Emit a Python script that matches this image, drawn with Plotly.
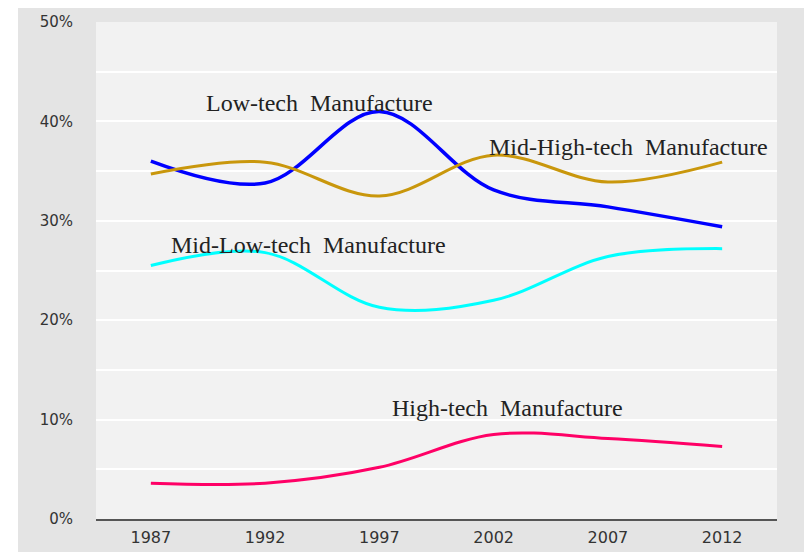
import plotly.graph_objects as go

years = [1987, 1992, 1997, 2002, 2007, 2012]
low_tech = [36.0, 33.8, 41.0, 33.1, 31.4, 29.4]
mid_high_tech = [34.7, 35.9, 32.5, 36.6, 33.9, 35.9]
mid_low_tech = [25.5, 26.8, 21.3, 22.0, 26.4, 27.2]
high_tech = [3.6, 3.6, 5.2, 8.5, 8.1, 7.3]

series = [
    ("Low-tech Manufacture", low_tech, "#0000ff", 3.5),
    ("Mid-High-tech Manufacture", mid_high_tech, "#c9970c", 3),
    ("Mid-Low-tech Manufacture", mid_low_tech, "#00ffff", 3),
    ("High-tech Manufacture", high_tech, "#ff0066", 3),
]

# label positions (x year, y %)
label_pos = {
    "Low-tech Manufacture": (1994.4, 41.9),
    "Mid-High-tech Manufacture": (2007.9, 37.4),
    "Mid-Low-tech Manufacture": (1993.9, 27.6),
    "High-tech Manufacture": (2002.6, 11.2),
}

fig = go.Figure()
for name, vals, color, w in series:
    fig.add_trace(go.Scatter(
        x=years, y=vals, mode="lines", name=name,
        line=dict(color=color, width=w, shape="spline", smoothing=1.0),
    ))
    lx, ly = label_pos[name]
    fig.add_annotation(x=lx, y=ly, text=name.replace(" ", " \u00a0"), showarrow=False,
                       font=dict(family="Liberation Serif", size=24, color="#222222"))

# grey panel, plot area and shadow
fig.add_shape(type="rect", xref="paper", yref="paper", x0=1.0426, x1=1.06, y0=-0.07, y1=1.028,
              fillcolor="#c4c4c4", line_width=0, layer="below")
fig.add_shape(type="rect", xref="paper", yref="paper", x0=-0.1145, x1=1.0426, y0=-0.07, y1=1.04,
              fillcolor="#e4e4e4", line_width=0, layer="below")
fig.add_shape(type="rect", xref="paper", yref="paper", x0=0, x1=1, y0=0, y1=1,
              fillcolor="#f2f2f2", line_width=0, layer="below")

# page body has an 8px margin, so the figure is trimmed to fit the window
fig.update_layout(
    width=804, height=544,
    margin=dict(l=88, r=35, t=14, b=33),
    paper_bgcolor="white",
    plot_bgcolor="rgba(0,0,0,0)",
    showlegend=False,
)
fig.update_xaxes(
    range=[1984.6, 2014.4], tickvals=years, showgrid=False, zeroline=False,
    showline=True, linecolor="#555555", linewidth=1.5, automargin=False,
    tickfont=dict(family="DejaVu Sans", size=16, color="#333333"),
    ticklabelstandoff=3,
)
fig.update_yaxes(
    range=[0, 50], dtick=10, ticksuffix="%", showgrid=True, gridcolor="white", gridwidth=1.5,
    minor=dict(dtick=5, showgrid=True, gridcolor="white", gridwidth=1.5),
    zeroline=False, showline=False, automargin=False,
    tickfont=dict(family="DejaVu Sans", size=15, color="#333333"),
    ticklabelstandoff=22,
)

fig.write_html("out.html")
